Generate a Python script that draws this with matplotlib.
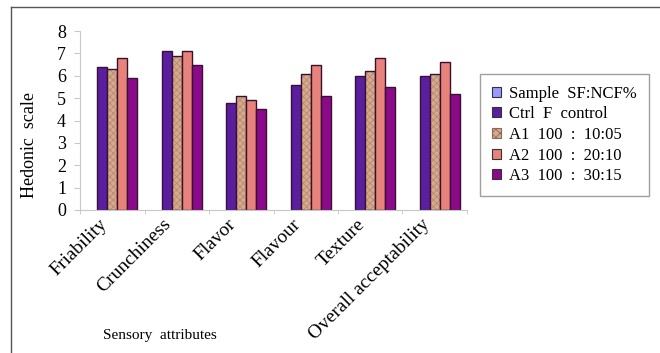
import numpy as np
import matplotlib.pyplot as plt
import matplotlib.transforms as mtransforms
from matplotlib.patches import Patch
from matplotlib.lines import Line2D

plt.rcParams['font.family'] = ['Liberation Serif', 'DejaVu Serif']
plt.rcParams['hatch.linewidth'] = 0.6

# Sensory scores (hedonic scale)
attributes = ['Friability', 'Crunchiness', 'Flavor', 'Flavour', 'Texture', 'Overall acceptability']
ctrl = [6.4, 7.1, 4.8, 5.6, 6.0, 6.0]
a1 = [6.3, 6.9, 5.1, 6.1, 6.2, 6.1]
a2 = [6.8, 7.1, 4.9, 6.5, 6.8, 6.6]
a3 = [5.9, 6.5, 4.5, 5.1, 5.5, 5.2]

labels = ['Sample  SF:NCF%', 'Ctrl  F  control', 'A1  100  :  10:05',
          'A2  100  :  20:10', 'A3  100  :  30:15']
colors = ['#9999ff', '#5a1fa0', '#d8aa8c', '#e8837c', '#8a0a8a']

fig = plt.figure(figsize=(6.6, 3.53), dpi=100)
ax = fig.add_axes([80 / 660, 143 / 353, 387 / 660, 179 / 353])

x = np.arange(len(attributes))
w = 0.155
edge = '#3a1030'
# first slot is left empty for the "Sample" series (no values)
series = [ctrl, a1, a2, a3]
for i, vals in enumerate(series):
    pos = x + (i - 1) * w
    if i == 1:
        ax.bar(pos, vals, w, color=colors[i + 1], hatch='xxxxx',
               edgecolor='#b48c74', linewidth=0)
        ax.bar(pos, vals, w, fill=False, edgecolor=edge, linewidth=1)
    else:
        ax.bar(pos, vals, w, color=colors[i + 1], edgecolor=edge, linewidth=1)

ax.set_xlim(-0.5, len(attributes) - 0.5)
ax.set_ylim(0, 8)
ax.set_yticks(range(9))
for s in ['top', 'right']:
    ax.spines[s].set_visible(False)
for s in ['left', 'bottom']:
    ax.spines[s].set_color('#c8c8c8')
ax.tick_params(axis='y', length=4, color='#c8c8c8', labelsize=13, pad=6)

ax.set_xticks(x)
ax.set_xticks(np.arange(-0.5, len(attributes)), minor=True)
ax.tick_params(axis='x', which='major', length=0, labelsize=14, pad=4)
ax.tick_params(axis='x', which='minor', length=3, color='#c8c8c8')
ax.set_xticklabels(attributes, rotation=45, ha='right', rotation_mode='anchor')
offset = mtransforms.ScaledTranslation(-14 / 100, 0, fig.dpi_scale_trans)
for lbl in ax.get_xticklabels():
    lbl.set_transform(lbl.get_transform() + offset)

fig.text(30 / 660, 1 - 145 / 353, 'Hedonic  scale', rotation=90,
         ha='center', va='center', fontsize=13)
fig.text(160 / 660, 1 - 336 / 353, 'Sensory  attributes',
         ha='center', va='center', fontsize=11)

handles = [Patch(facecolor=c, edgecolor='#333333', linewidth=0.8) for c in colors]
handles[2] = Patch(facecolor=colors[2], edgecolor='#8a6a5a', hatch='xxxx', linewidth=0.8)
leg = fig.legend(handles, labels, loc='upper left',
                 bbox_to_anchor=(480 / 660, 1 - 74 / 353),
                 frameon=True, fancybox=False, fontsize=12,
                 handlelength=0.55, handleheight=0.55, handletextpad=0.5,
                 labelspacing=0.28, borderpad=0.7, borderaxespad=0)
leg.get_frame().set_edgecolor('#888888')
leg.get_frame().set_linewidth(1)

# outer frame lines (top and left)
fig.add_artist(Line2D([11 / 660, 11 / 660], [0, 1 - 7 / 353], color='#555555', lw=1))
fig.add_artist(Line2D([11 / 660, 1], [1 - 7 / 353, 1 - 7 / 353], color='#555555', lw=1))

fig.savefig('out.png', dpi=100)
